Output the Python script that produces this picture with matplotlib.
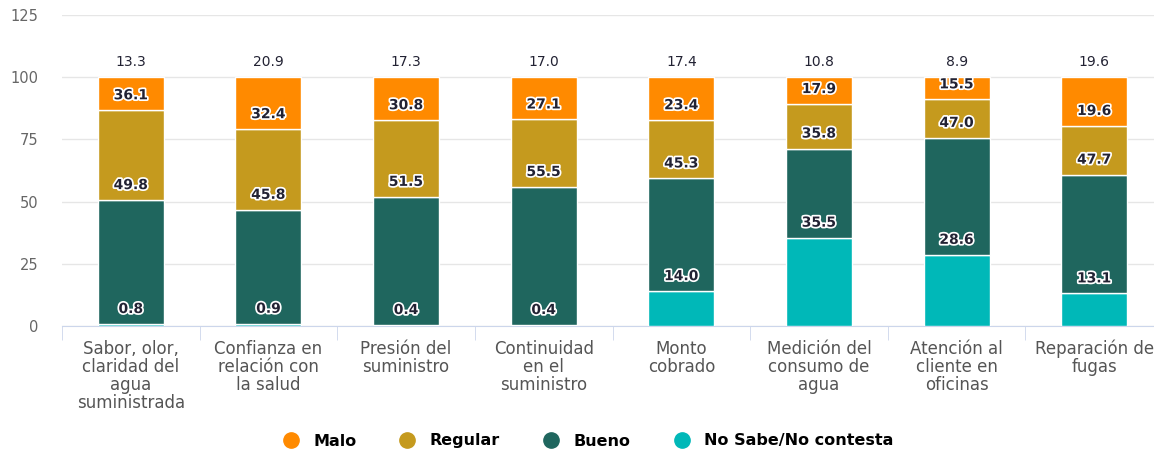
import matplotlib.pyplot as plt
import matplotlib.patheffects as pe
from matplotlib.lines import Line2D
import numpy as np

plt.rcParams['font.family'] = ['DejaVu Sans']

categories = ['Sabor, olor,\nclaridad del\nagua\nsuministrada', 'Confianza en\nrelación con\nla salud',
              'Presión del\nsuministro', 'Continuidad\nen el\nsuministro', 'Monto\ncobrado',
              'Medición del\nconsumo de\nagua', 'Atención al\ncliente en\noficinas', 'Reparación de\nfugas']
no_sabe = [0.8, 0.9, 0.4, 0.4, 14.0, 35.5, 28.6, 13.1]
bueno = [49.8, 45.8, 51.5, 55.5, 45.3, 35.8, 47.0, 47.7]
regular = [36.1, 32.4, 30.8, 27.1, 23.4, 17.9, 15.5, 19.6]
malo = [13.3, 20.9, 17.3, 17.0, 17.4, 10.8, 8.9, 19.6]

series = [('No Sabe/No contesta', no_sabe, '#00b8b8'),
          ('Bueno', bueno, '#1f665e'),
          ('Regular', regular, '#c59a1e'),
          ('Malo', malo, '#ff8a00')]

fig = plt.figure(figsize=(11.54, 4.53), dpi=100)
ax = fig.add_axes([62 / 1154, 127 / 453, 1101 / 1154, 311 / 453])

x = np.arange(len(categories))
bottom = np.zeros(len(categories))
for name, vals, color in series:
    vals = np.array(vals)
    ax.bar(x, vals, 0.48, bottom=bottom, color=color, edgecolor='white', linewidth=1, zorder=3)
    top = bottom + vals
    for xi, ti, v in zip(x, top, vals):
        if name == 'Malo':
            ax.annotate(f'{v:.1f}', (xi, ti), xytext=(0, 10.8), textcoords='offset points',
                        ha='center', va='center', fontsize=10, color='#222233', zorder=5)
        else:
            ax.annotate(f'{v:.1f}', (xi, ti), xytext=(0, 10.8), textcoords='offset points',
                        ha='center', va='center', fontsize=10, fontweight='bold', color='#222233',
                        zorder=5, path_effects=[pe.withStroke(linewidth=2.5, foreground='white')])
    bottom = top

ax.set_xlim(-0.5, 7.5)
ax.set_ylim(0, 125)
ax.set_yticks([0, 25, 50, 75, 100, 125])
ax.grid(axis='y', color='#e6e6e6', linewidth=1, zorder=0)
ax.set_axisbelow(True)
for s in ['top', 'right', 'left']:
    ax.spines[s].set_visible(False)
ax.spines['bottom'].set_color('#ccd6eb')
ax.tick_params(axis='y', length=0, labelsize=10.5, labelcolor='#666666', pad=17)
ax.set_xticks(x)
ax.set_xticklabels(categories, fontsize=12, color='#555555', linespacing=1.0)
ax.tick_params(axis='x', which='major', length=0, pad=10)
ax.set_xticks(np.arange(-0.5, 8, 1), minor=True)
ax.tick_params(axis='x', which='minor', length=10, color='#ccd6eb')

handles = [Line2D([], [], marker='o', linestyle='', markersize=11, color=c) for _, _, c in series[::-1]]
names = [n for n, _, _ in series[::-1]]
fig.legend(handles, names, loc='center', bbox_to_anchor=(584 / 1154, 1 - 441 / 453), ncol=4,
           frameon=False, handletextpad=0.4, columnspacing=2.2,
           prop={'weight': 'bold', 'size': 11.5})

fig.savefig('out.png', dpi=100)
